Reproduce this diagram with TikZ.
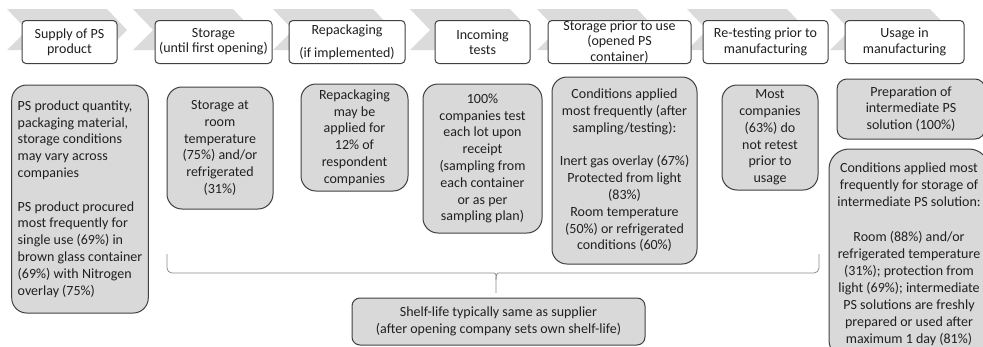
\documentclass[tikz,border=0pt]{standalone}
\usepackage{fontspec}
\setmainfont{Carlito}
\usepackage{tikz}
\usetikzlibrary{calc}
\usetikzlibrary{positioning}

\definecolor{boxgray}{HTML}{D9D9D9}
\definecolor{chevgray}{HTML}{DBDBDB}
\definecolor{linegray}{HTML}{404040}
\definecolor{bracegray}{HTML}{8C8C8C}
\definecolor{textgray}{HTML}{202020}

\begin{document}
\begin{tikzpicture}[x=1pt, y=-1pt, text=textgray,
  font={\fontsize{14}{16.8}\selectfont},
  every stage/.style={draw=linegray, line width=1pt, fill=white, rounded corners=4pt,
    align=center, inner sep=0pt, minimum height=43pt, font={\fontsize{14}{15.3}\selectfont}},
  every note/.style={draw=linegray, line width=1pt, fill=boxgray, rounded corners=15pt,
    align=center, inner sep=0pt},
  chevron/.style={fill=chevgray},
  brace line/.style={draw=bracegray, line width=0.8pt, rounded corners=5pt}]

\useasboundingbox (0,0) rectangle (983,346);
\clip (0,0) rectangle (983,346);

% process arrows behind the stages
\foreach \x in {7,133,273,410,537,687,830}
  \fill [chevron] (\x,9) -- ++(100,0) -- ++(20,21) -- ++(-20,20) -- ++(-100,0) -- ++(20,-20) -- cycle;

\foreach \x/\w/\l [count=\i] in {69.5/95/{Supply of PS\\product},
    213.5/117/{Storage\\(until first opening)},
    347/116/{Repackaging\\[7.5pt](if implemented)},
    482.5/95/{Incoming\\tests},
    619.5/143/{Storage prior to use\\(opened PS\\container)},
    765.5/125/{Re-testing prior to\\manufacturing},
    904.5/119/{Usage in\\manufacturing}}
  \node [every stage/.try, stage \i/.try, minimum width=\w pt] (stage-\i) at (\x,42) {\l};

\node [every note/.try, align=left, inner xsep=6pt, minimum width=136pt, minimum height=228pt]
  (note-1) at (80,199) {PS product quantity,\\packaging material,\\storage conditions\\may vary across\\companies\\[16.8pt]PS product procured\\most frequently for\\single use (69\%) in\\brown glass container\\(69\%) with Nitrogen\\overlay (75\%)};

\node [every note/.try, minimum width=106pt, minimum height=122pt]
  (note-2) at (220,148) {Storage at\\room\\temperature\\(75\%) and/or\\refrigerated\\(31\%)};

\node [every note/.try, minimum width=107pt, minimum height=107pt]
  (note-3) at (354.5,137.5) {Repackaging\\may be\\applied for\\12\% of\\respondent\\companies};

\node [every note/.try, minimum width=119pt, minimum height=149pt]
  (note-4) at (482.5,158.5) {100\%\\companies test\\each lot upon\\receipt\\(sampling from\\each container\\or as per\\sampling plan)};

\node [every note/.try, minimum width=145pt, minimum height=187pt]
  (note-5) at (624.5,170.5) {Conditions applied\\most frequently (after\\sampling/testing):\\[16.8pt]Inert gas overlay (67\%)\\Protected from light\\(83\%)\\Room temperature\\(50\%) or refrigerated\\conditions (60\%)};

\node [every note/.try, minimum width=96pt, minimum height=105pt]
  (note-6) at (770,137.5) {Most\\companies\\(63\%) do\\not retest\\prior to\\usage};

\node [every note/.try, rounded corners=10pt, minimum width=148pt, minimum height=60pt]
  (note-7) at (911,109) {Preparation of\\intermediate PS\\solution (100\%)};

\node [every note/.try, rounded corners=20pt, minimum width=160pt, minimum height=211pt,
  font={\fontsize{14}{17.1}\selectfont}]
  (note-8) at (909,254.5) {Conditions applied most\\frequently for storage of\\intermediate PS solution:\\[17.1pt]Room (88\%) and/or\\refrigerated temperature\\(31\%); protection from\\light (69\%); intermediate\\PS solutions are freshly\\prepared or used after\\maximum 1 day (81\%)};

\node [every note/.try, rounded corners=8pt, minimum width=293pt, minimum height=47pt]
  (shelf) at (498.5,321.5) {Shelf-life typically same as supplier\\(after opening company sets own shelf-life)};

% brace over the middle stages
\coordinate (brace-l) at (167,254);
\coordinate (brace-r) at (819,254);
\coordinate (brace-tip) at (496,293);
\draw [brace line] (brace-l) |- ($(brace-tip)+(-7,-20)$)
  .. controls ($(brace-tip)+(-1,-20)$) and ($(brace-tip)+(0,-18)$) .. ($(brace-tip)+(0,-13)$) -- (brace-tip);
\draw [brace line] (brace-r) |- ($(brace-tip)+(7,-20)$)
  .. controls ($(brace-tip)+(1,-20)$) and ($(brace-tip)+(0,-18)$) .. ($(brace-tip)+(0,-13)$);

\end{tikzpicture}
\end{document}
